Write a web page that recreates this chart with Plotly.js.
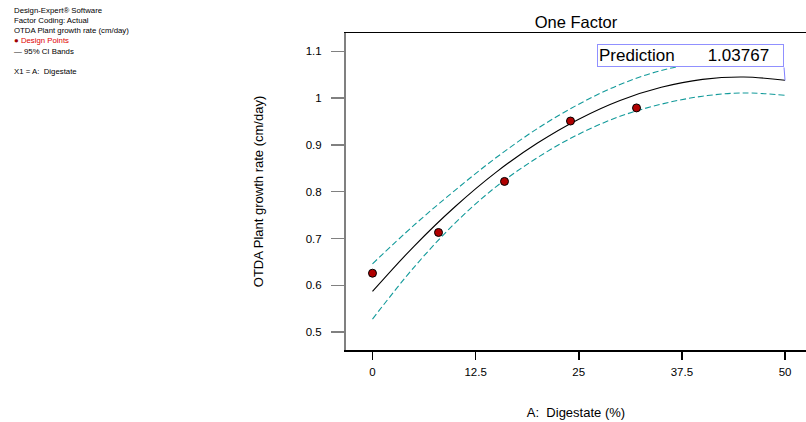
<!DOCTYPE html>
<html>
<head>
<meta charset="utf-8">
<script src="https://cdn.plot.ly/plotly-3.0.1.min.js"></script>
<style>html,body{margin:0;padding:0;background:#fff;}#chart{width:806px;height:422px;}</style>
</head>
<body>
<div id="chart"></div>
<script>
// Design points (A: Digestate %, OTDA plant growth rate cm/day)
const pointX = [0, 8, 16, 24, 32];
const pointY = [0.626, 0.713, 0.822, 0.951, 0.979];

// Fitted model curve and 95% CI bands
const curveX = [0, 5, 10, 15, 20, 25, 30, 35, 40, 45, 50];
const fitY   = [0.587, 0.683, 0.768, 0.842, 0.904, 0.955, 0.995, 1.023, 1.040, 1.045, 1.038];
const upperY = [0.646, 0.728, 0.803, 0.873, 0.935, 0.987, 1.029, 1.059, 1.076, 1.079, 1.070];
const lowerY = [0.528, 0.638, 0.733, 0.811, 0.873, 0.923, 0.961, 0.987, 1.004, 1.011, 1.006];

// Prediction flag
const predX = 50;
const predY = 1.03767;
const predLabel = "Prediction";
const predText = "1.03767";

// Axis ticks
const xTickVals = [0, 12.5, 25, 37.5, 50];
const xTickText = ["0", "12.5", "25", "37.5", "50"];
const yTickVals = [0.5, 0.6, 0.7, 0.8, 0.9, 1.0, 1.1];
const yTickText = ["0.5", "0.6", "0.7", "0.8", "0.9", "1", "1.1"];

const infoLines = [
  "Design-Expert® Software",
  "Factor Coding: Actual",
  "OTDA Plant growth rate (cm/day)",
  "<span style='color:#a00000'>●</span> <span style='color:#e00000'>Design Points</span>",
  "— 95% CI Bands",
  "\u00A0",
  "X1 = A:  Digestate"
];

const FONT = "Arial, 'Liberation Sans', sans-serif";
const teal = "#129a9a";

const traces = [
  {x: curveX, y: upperY, type: "scatter", mode: "lines", line: {color: teal, width: 1.1, dash: "6px,3px", shape: "spline"}, hoverinfo: "skip", showlegend: false},
  {x: curveX, y: lowerY, type: "scatter", mode: "lines", line: {color: teal, width: 1.1, dash: "6px,3px", shape: "spline"}, hoverinfo: "skip", showlegend: false},
  {x: curveX, y: fitY, type: "scatter", mode: "lines", line: {color: "#000000", width: 1.1, shape: "spline"}, showlegend: false},
  {x: pointX, y: pointY, type: "scatter", mode: "markers", marker: {color: "#b00000", size: 8, line: {color: "#000000", width: 1}}, showlegend: false}
];

const layout = {
  width: 806, height: 422,
  margin: {l: 346, r: 0, t: 33, b: 72, pad: 0},
  paper_bgcolor: "#ffffff", plot_bgcolor: "#ffffff",
  font: {family: FONT, color: "#000000", size: 12},
  showlegend: false,
  title: {text: "One Factor", font: {family: FONT, size: 16.5, color: "#000"}, xref: "paper", x: 0.5, xanchor: "center", yref: "container", y: 1 - 22.7/422, yanchor: "middle"},
  xaxis: {
    range: [-3.21, 52.54], showgrid: false, zeroline: false,
    showline: true, linecolor: "#000000", linewidth: 1.5, mirror: true,
    ticks: "outside", ticklen: 8, tickwidth: 1.5, tickcolor: "#000000",
    tickmode: "array", tickvals: xTickVals, ticktext: xTickText,
    tickfont: {family: FONT, size: 11.5}, ticklabelstandoff: 3,
    title: {text: "A:  Digestate (%)", font: {family: FONT, size: 13}, standoff: 30}
  },
  yaxis: {
    range: [0.462, 1.139], showgrid: false, zeroline: false,
    showline: true, linecolor: "#808080", linewidth: 2,
    ticks: "outside", ticklen: 13, tickwidth: 1.5, tickcolor: "#808080",
    tickmode: "array", tickvals: yTickVals, ticktext: yTickText,
    tickfont: {family: FONT, size: 11.5}, ticklabelstandoff: 7,
    title: {text: "OTDA Plant growth rate (cm/day)", font: {family: FONT, size: 13}, standoff: 39}
  },
  annotations: [
    {
      xref: "paper", yref: "paper", x: (12 - 346)/460, y: (350 - 4)/317,
      xanchor: "left", yanchor: "top", align: "left", showarrow: false,
      text: infoLines.join("<br>"), font: {family: FONT, size: 7.8, color: "#000"}
    },
    {
      xref: "x", yref: "y", x: predX, y: predY,
      showarrow: true, arrowhead: 0, arrowwidth: 1, arrowcolor: "#8080ff", standoff: 0,
      ax: -1, ay: -13, xanchor: "right", yanchor: "bottom",
      text: predLabel + "\u00A0\u00A0\u00A0\u00A0\u00A0\u00A0\u00A0" + predText,
      font: {family: FONT, size: 17, color: "#000"},
      align: "left", width: 183, height: 19,
      bgcolor: "#ffffff", bordercolor: "#9090ff", borderwidth: 1, borderpad: 1
    }
  ]
};

Plotly.newPlot("chart", traces, layout, {staticPlot: true, displayModeBar: false});
</script>
</body>
</html>
